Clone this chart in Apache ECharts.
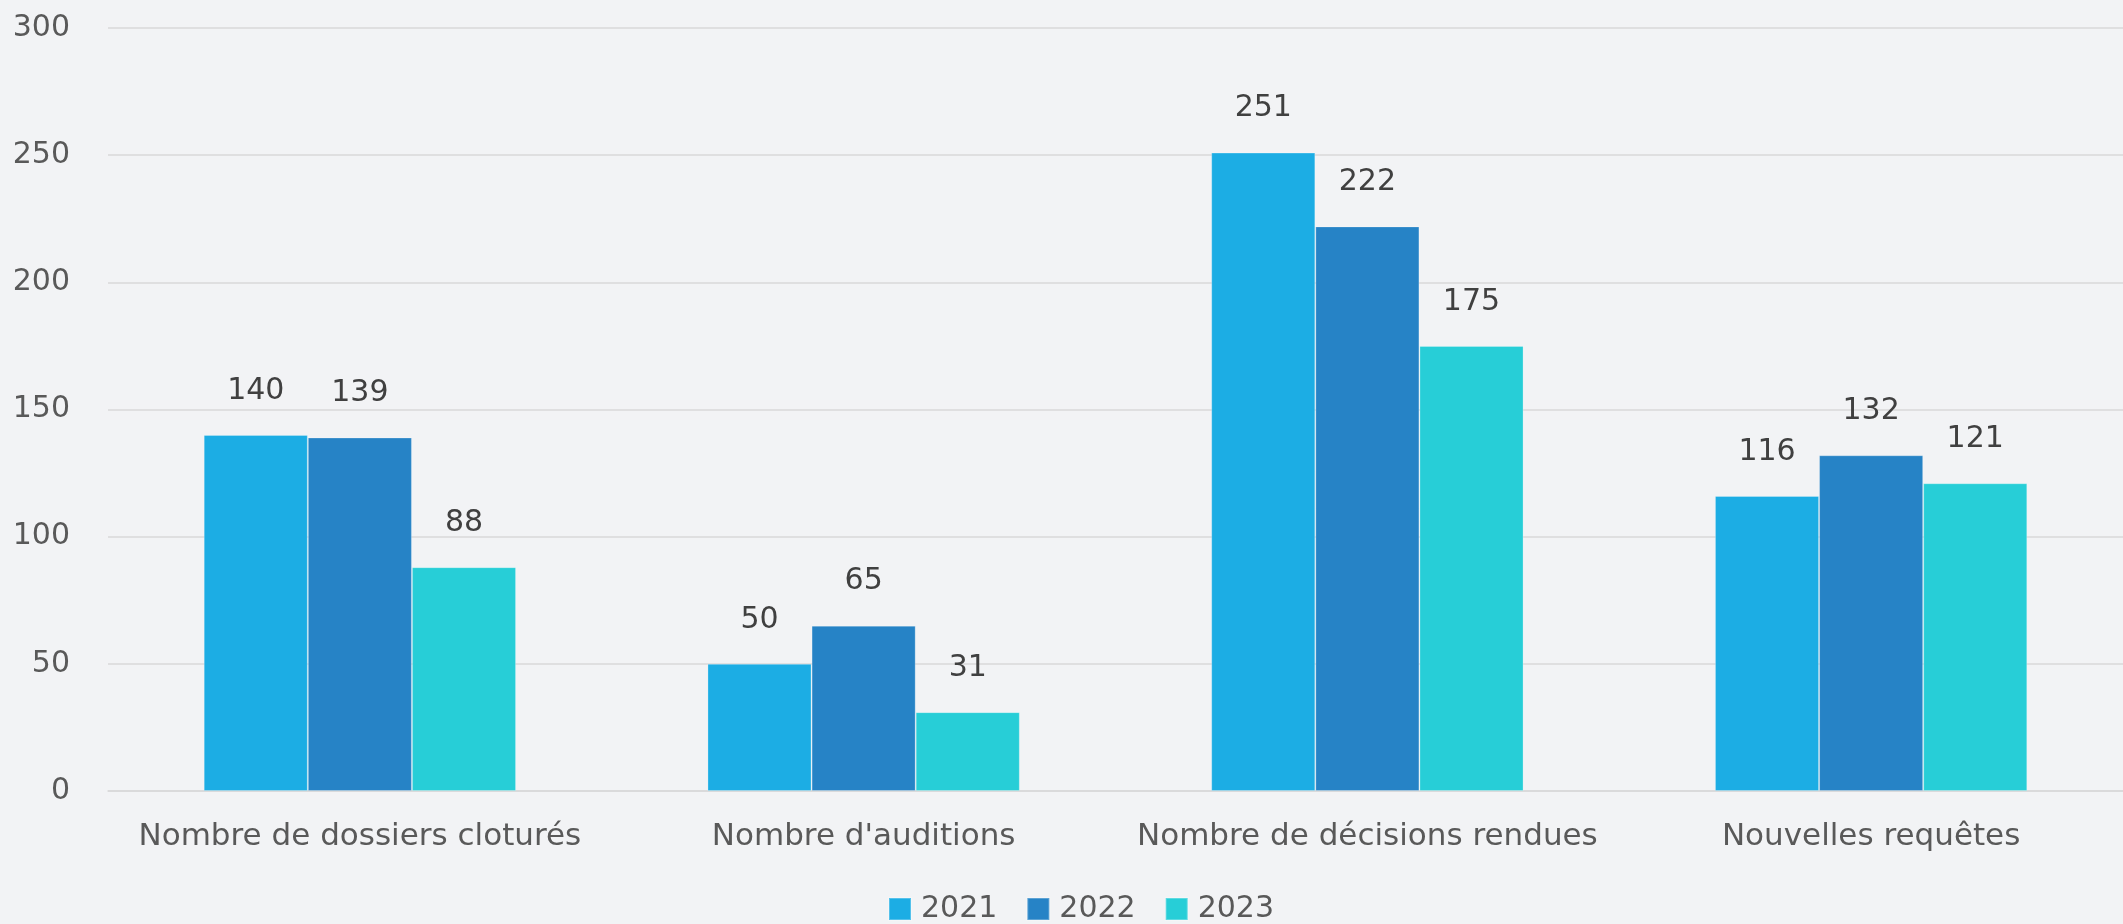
<!DOCTYPE html>
<html>
<head>
<meta charset="utf-8">
<script src="https://cdn.jsdelivr.net/npm/echarts@6/dist/echarts.min.js"></script>
<style>
  html, body { margin: 0; padding: 0; background: #F2F3F5; }
  #chart { width: 2123px; height: 924px; }
</style>
</head>
<body>
<div id="chart"></div>
<script>
// categories and values
const categories = [
    'Nombre de dossiers cloturés',
    "Nombre d'auditions",
    'Nombre de décisions rendues',
    'Nouvelles requêtes'
];
const years = ['2021', '2022', '2023'];
const values2021 = [140, 50, 251, 116];
const values2022 = [139, 65, 222, 132];
const values2023 = [88, 31, 175, 121];
const yTicks = [0, 50, 100, 150, 200, 250, 300];

const colors = ['#1CADE4', '#2683C6', '#27CED7'];
const font = '"DejaVu Sans", Verdana, sans-serif';

let makeSeries = (name, data) => {
    return {
        name: name,
        type: 'bar',
        data: data,
        barGap: '0%',
        barCategoryGap: '38%',
        itemStyle: {
            borderColor: 'rgba(255,255,255,0.25)',
            borderWidth: 1
        },
        label: {
            show: true,
            position: 'top',
            distance: 29,
            color: '#404040',
            fontFamily: font,
            fontSize: 30
        }
    };
};

let chart = echarts.init(document.getElementById('chart'));
chart.setOption({
    backgroundColor: '#F2F3F5',
    color: colors,
    animation: false,
    grid: {
        left: 108,
        right: 0,
        top: 28,
        bottom: 133
    },
    legend: {
        data: years,
        left: 883,
        top: 889,
        itemWidth: 22,
        itemHeight: 22,
        itemGap: 29,
        icon: 'rect',
        textStyle: {
            color: '#595959',
            fontFamily: font,
            fontSize: 30,
            padding: [0, 0, 0, 5]
        }
    },
    xAxis: {
        type: 'category',
        data: categories,
        axisTick: { show: false },
        axisLine: { lineStyle: { color: '#D9D9D9', width: 1.5 } },
        axisLabel: {
            interval: 0,
            color: '#595959',
            fontFamily: font,
            fontSize: 31,
            margin: 30
        }
    },
    yAxis: {
        type: 'value',
        min: yTicks[0],
        max: yTicks[yTicks.length - 1],
        interval: yTicks[1] - yTicks[0],
        axisLine: { show: false },
        axisTick: { show: false },
        splitLine: { lineStyle: { color: '#D9D9D9', width: 1.5 } },
        axisLabel: {
            color: '#595959',
            fontFamily: font,
            fontSize: 30,
            margin: 38
        }
    },
    series: [
        makeSeries(years[0], values2021),
        makeSeries(years[1], values2022),
        makeSeries(years[2], values2023)
    ]
});
</script>
</body>
</html>
